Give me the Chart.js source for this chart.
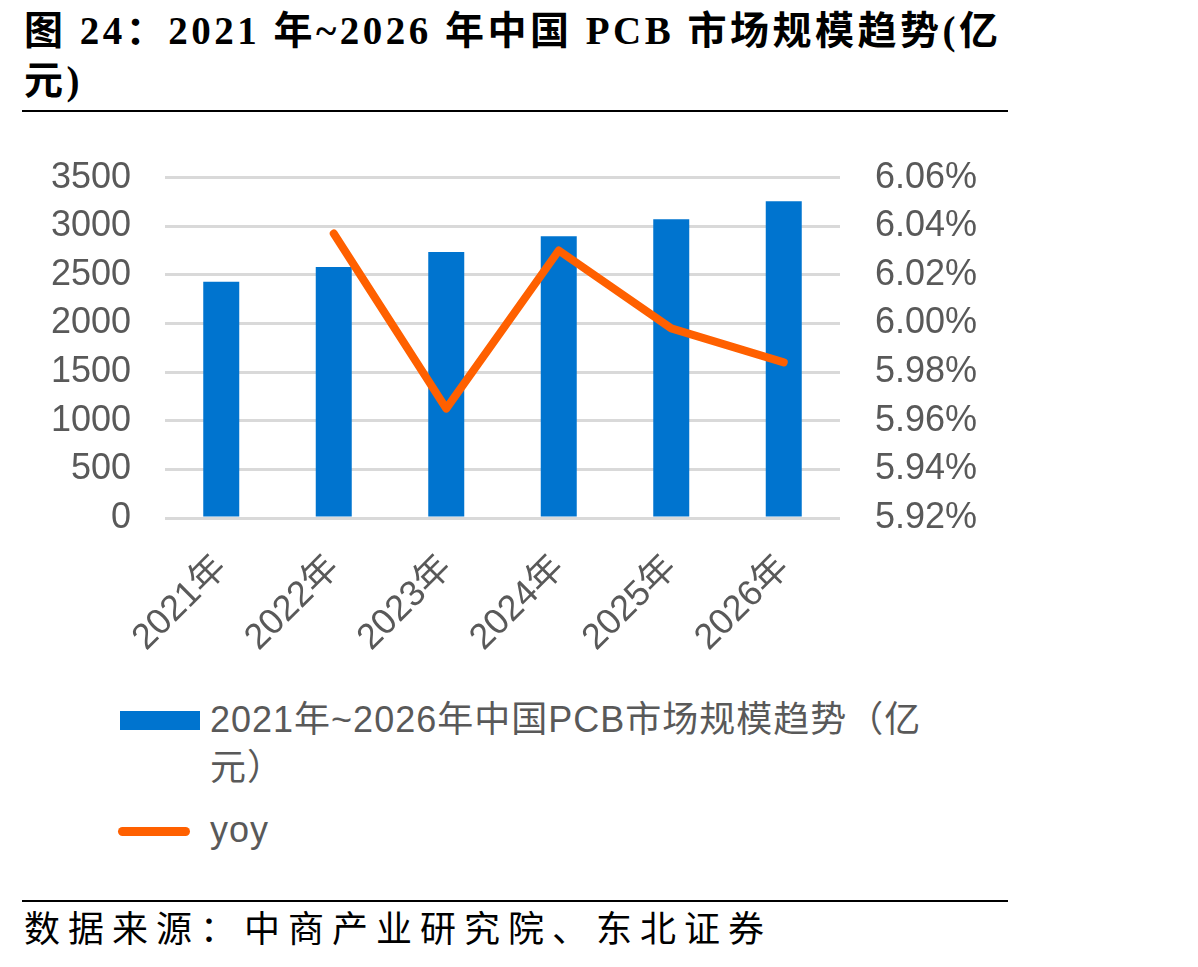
<!DOCTYPE html>
<html><head><meta charset="utf-8">
<script src="https://cdn.jsdelivr.net/npm/chart.js@4.4.1/dist/chart.umd.min.js"></script>
<style>
html,body{margin:0;padding:0;background:#fff;width:1198px;height:967px;overflow:hidden;position:relative}
#title{position:absolute;left:24px;top:6px;font-family:"Liberation Serif","Noto Sans CJK SC",serif;font-weight:bold;font-size:39px;line-height:50px;color:#000;letter-spacing:3.5px;white-space:nowrap}
#rule1{position:absolute;left:22px;top:110px;width:986px;height:2px;background:#000}
#rule2{position:absolute;left:22px;top:900px;width:986px;height:2px;background:#000}
#source{position:absolute;left:24px;top:908px;font-family:"Liberation Serif","Noto Sans CJK SC",serif;font-size:36px;line-height:44px;color:#000;letter-spacing:8px;white-space:nowrap}
#wrap{position:absolute;left:0;top:121px;width:1010px;height:540px}
#legend{position:absolute;left:118px;top:696px;font-family:"Liberation Sans","Noto Sans CJK SC",sans-serif;font-size:36px;color:#595959;letter-spacing:1px}
.li{position:relative;padding-left:92px;line-height:48px;white-space:nowrap}
.sw{position:absolute;left:2px}
</style></head>
<body>
<div id="title">图 24：2021 年~2026 年中国 PCB 市场规模趋势(亿<br>元)</div>
<div id="rule1"></div>
<div id="wrap"><canvas id="c"></canvas></div>
<div id="legend"></div>
<div id="rule2"></div>
<div id="source">数据来源：中商产业研究院、东北证券</div>
<script>
const categories = ["2021年","2022年","2023年","2024年","2025年","2026年"];
const marketSize = [2429, 2580, 2734, 2898, 3072, 3257];
const yoy = [null, 6.037, 5.965, 6.030, 5.998, 5.984];
const barLabelLines = ["2021年~2026年中国PCB市场规模趋势（亿", "元）"];
const lineLabel = "yoy";
const barColor = "#0074CF";
const lineColor = "#FF6000";

const lg = document.getElementById('legend');
lg.innerHTML =
  '<div class="li"><span class="sw" style="top:15px;width:80px;height:19px;background:'+barColor+'"></span>'+
  barLabelLines.join('<br>')+'</div>'+
  '<div class="li" style="margin-top:14px"><span class="sw" style="top:21px;left:0;width:72px;height:9px;border-radius:5px;background:'+lineColor+'"></span>'+lineLabel+'</div>';

const tickFont = {family:"'Liberation Sans','Noto Sans CJK SC',sans-serif", size:36};
new Chart(document.getElementById('c'), {
  data: {
    labels: categories,
    datasets: [
      {type:'line', label: lineLabel, data: yoy, yAxisID:'y2', borderColor: lineColor, borderWidth: 8,
       pointRadius: 0, pointHoverRadius: 0, borderCapStyle:'round', borderJoinStyle:'round', tension:0, order:0},
      {type:'bar', label: barLabelLines.join(''), data: marketSize, yAxisID:'y', backgroundColor: barColor,
       categoryPercentage: 1, barPercentage: 0.32, order:1}
    ]
  },
  options: {
    responsive:true, maintainAspectRatio:false, animation:false,
    layout:{padding:{top:38,left:0,right:0,bottom:0}},
    plugins:{legend:{display:false}, tooltip:{enabled:false}},
    scales:{
      x:{
        grid:{display:false, drawTicks:false},
        border:{display:false},
        ticks:{font:tickFont, color:'#595959', minRotation:45, maxRotation:45, padding:29},
        afterFit(s){ s.height = 143; }
      },
      y:{
        position:'left', min:0, max:3500,
        ticks:{stepSize:500, font:tickFont, color:'#595959', padding:34, callback:(v)=>String(v)},
        grid:{color:'#D9D9D9', lineWidth:3, drawTicks:false},
        border:{display:false},
        afterFit(s){ s.width = 165; }
      },
      y2:{
        position:'right', min:5.92, max:6.06,
        ticks:{stepSize:0.02, font:tickFont, color:'#595959', padding:35,
          callback:(v)=> v.toFixed(2)+'%'},
        grid:{display:false, drawTicks:false},
        border:{display:false},
        afterFit(s){ s.width = 170; }
      }
    }
  }
});
</script>
</body></html>
